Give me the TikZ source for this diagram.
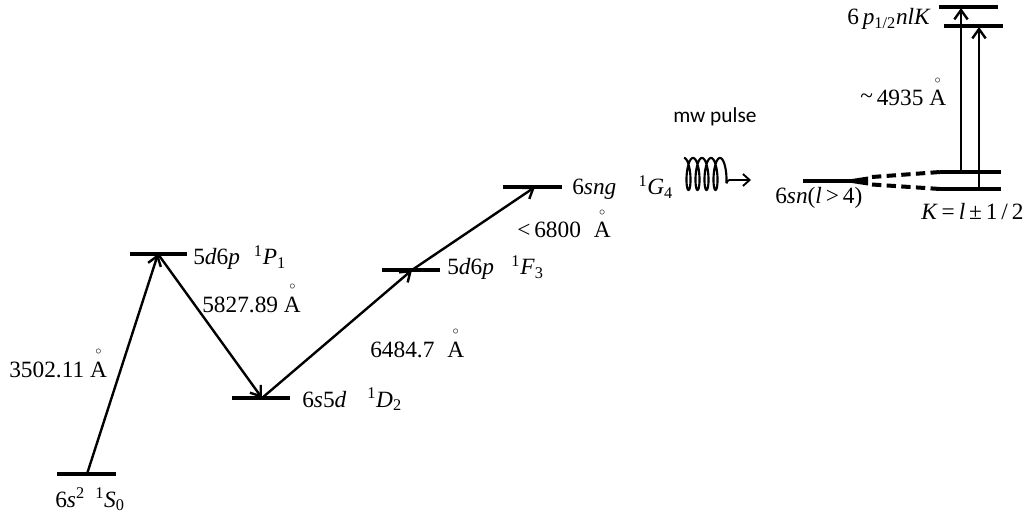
\documentclass[tikz,border=0pt]{standalone}
\usepackage{fontspec}
\setmainfont{Liberation Serif}
\newfontfamily\mwfont{Carlito}
\usetikzlibrary{arrows.meta}
\newcommand\Ang{\makebox[0pt][l]{\hspace{0.36em}\raisebox{0.98em}{\makebox[0pt]{\fontsize{9}{9}\selectfont$\circ$}}}A}
\begin{document}
\begin{tikzpicture}[x=0.75pt,y=-0.75pt,
  level/.style={line width=3pt},
  trans/.style={line width=1.8pt,-{Straight Barb[length=7pt,width=10pt,line width=1.8pt]}},
  lbl/.style={inner sep=0pt,anchor=base west,font=\fontsize{17.5}{20}\selectfont},
  mw/.style={inner sep=0pt,anchor=base west,font=\mwfont\fontsize{16}{19}\selectfont},
  dsh/.style={line width=3pt,dash pattern=on 7pt off 4pt},
]
\useasboundingbox (0,0) rectangle (1024,513);
% level end points
\coordinate (g1) at (57,474); \coordinate (g2) at (116,474);
\coordinate (p1) at (130,254); \coordinate (p2) at (187,254);
\coordinate (d1) at (232,398); \coordinate (d2) at (290,398);
\coordinate (f1) at (382,270); \coordinate (f2) at (440,270);
\coordinate (h1) at (503,187); \coordinate (h2) at (562,187);
\coordinate (n1) at (803,181); \coordinate (n2) at (852,181);
\coordinate (ka1) at (940,172); \coordinate (ka2) at (1001,172);
\coordinate (kb1) at (940,189); \coordinate (kb2) at (1001,189);
\coordinate (ta1) at (939,7); \coordinate (ta2) at (998,7);
\coordinate (tb1) at (944,26); \coordinate (tb2) at (1003,26);
% levels
\foreach \a/\b in {g1/g2,p1/p2,d1/d2,f1/f2,h1/h2,n1/n2,ka1/ka2,kb1/kb2,ta1/ta2,tb1/tb2}
  \draw[level] (\a) -- (\b);
% transition points
\coordinate (g) at (87,474);
\coordinate (p) at (158,254);
\coordinate (d) at (262,398);
\coordinate (f) at (412,270);
\coordinate (h) at (535,187);
\draw[trans] (g) -- (p);
\draw[trans] (p) -- (d);
\draw[trans] (d) -- (f);
\draw[trans] (f) -- (h);
% vertical transitions
\coordinate (ua) at (961,172); \coordinate (ua2) at (961,8);
\coordinate (ub) at (979,189); \coordinate (ub2) at (979,27);
\draw[trans] (ua) -- (ua2);
\draw[trans] (ub) -- (ub2);
% wedge and dashed splitting
\coordinate (w1) at (850,179.3); \coordinate (w2) at (868,176.5);
\coordinate (w3) at (868,185.5); \coordinate (w4) at (850,182.7);
\fill (w1) -- (w2) -- (w3) -- (w4) -- cycle;
\coordinate (s1) at (872,177); \coordinate (s2) at (872,184.5);
\draw[dsh] (s1) -- (ka1);
\draw[dsh] (s2) -- (kb1);
% microwave pulse
\draw[line width=1.6pt,line join=round] plot[domain=-0.25:4.1,samples=260,smooth]
  ({684+9*(\x+0.25)+4*cos(360*\x)},{174+16*sin(360*\x)});
\coordinate (c2) at (726.4,183.4);
\coordinate (c3) at (751,180);
\draw[line width=1.4pt,-{Straight Barb[length=5pt,width=9pt,line width=1.4pt]}] (c2) .. controls (728,180) .. (732,180) -- (c3);
% labels
\node[lbl] (lg) at (55,507) {6\textit{s}\textsuperscript{2}\hspace{0.45em}\textsuperscript{1}\textit{S}\textsubscript{0}};
\node[lbl] (lp) at (193,265) {5\textit{d}6\textit{p}\hspace{0.6em}\textsuperscript{1}\textit{P}\textsubscript{1}};
\node[lbl] (ld) at (302,407) {6\textit{s}5\textit{d}\hspace{0.9em}\textsuperscript{1}\textit{D}\textsubscript{2}};
\node[lbl] (lf) at (447,275) {5\textit{d}6\textit{p}\hspace{0.75em}\textsuperscript{1}\textit{F}\textsubscript{3}};
\node[lbl] (lh) at (572,195) {6\textit{sng}\hspace{0.95em}\textsuperscript{1}\textit{G}\textsubscript{4}};
\node[lbl] (w351) at (9,377) {3502.11 \Ang};
\node[lbl] (w582) at (202,312) {5827.89 \Ang};
\node[lbl] (w648) at (370,357) {6484.7\hspace{0.55em}\Ang};
\node[lbl] (w680) at (517,238) {<\,6800\hspace{0.55em}\Ang};
\node[lbl] (w493) at (860,106) {\raisebox{0.1em}{\~{}}\,4935 \Ang};
\node[mw] (mwl) at (673,123) {mw pulse};
\node[lbl] (ln) at (775,204) {6\textit{sn}(\textit{l}\,>\,4)};
\node[lbl] (lk) at (921,220) {\textit{K}\,=\,\textit{l}\,±\,1\,/\,2};
\node[lbl] (lt) at (847,25) {6\,\textit{p}\textsubscript{1/2}\textit{nlK}};
\end{tikzpicture}
\end{document}
